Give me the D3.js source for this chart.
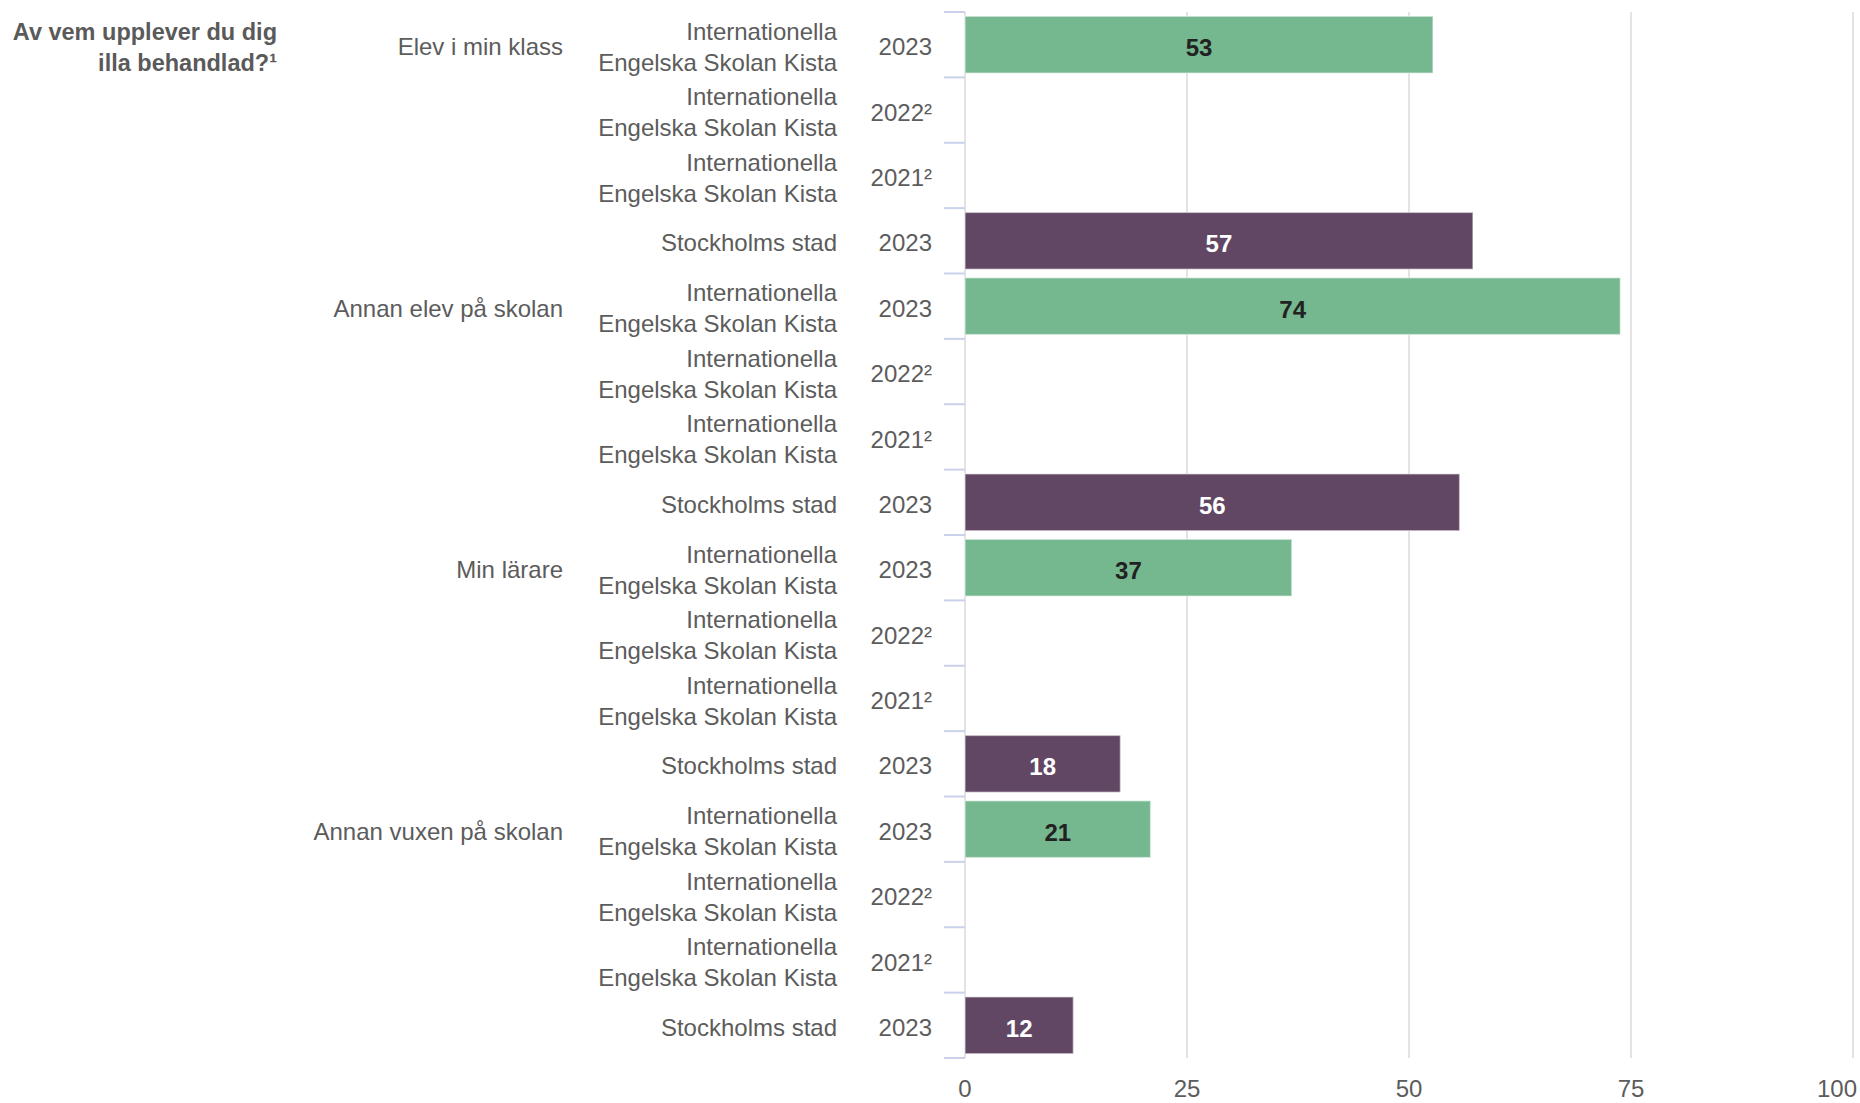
<!DOCTYPE html>
<html>
<head>
<meta charset="utf-8">
<style>
  body { margin: 0; background: #fff; }
  text { font-family: "Liberation Sans", Arial, sans-serif; }
</style>
<title>Av vem upplever du dig illa behandlad?</title>
</head>
<body>
<script src="https://cdn.jsdelivr.net/npm/d3@7"></script>
<script>
  // data
  var questions = ["Elev i min klass", "Annan elev på skolan", "Min lärare", "Annan vuxen på skolan"];
  var units = ["Internationella Engelska Skolan Kista", "Internationella Engelska Skolan Kista",
               "Internationella Engelska Skolan Kista", "Stockholms stad"];
  var years = ["2023", "2022²", "2021²", "2023"];
  var school2023 = [52.7, 73.8, 36.8, 20.9];
  var stad2023 = [57.2, 55.7, 17.5, 12.2];
  var xTicks = [0, 25, 50, 75, 100];

  // one row per question x unit/year
  var rows = [];
  questions.forEach(function(q, qi) {
    years.forEach(function(yr, j) {
      var v = null;
      if (j === 0) v = school2023[qi];
      if (j === 3) v = stad2023[qi];
      rows.push({ id: qi + "-" + j, q: q, first: j === 0, unit: units[j], year: yr,
                  value: v, stad: j === 3 });
    });
  });

  var W = 1860, H = 1103;
  var x0 = 965, x1 = 1853;
  var yTop = 12, yBottom = 1058;
  var x = d3.scaleLinear().domain([0, 100]).range([x0, x1]);
  var y = d3.scaleBand().domain(rows.map(function(d) { return d.id; }))
    .range([yTop, yBottom]).paddingInner(0.13).paddingOuter(0.065);
  var step = y.step();

  var svg = d3.select("body").append("svg")
    .attr("width", W).attr("height", H);

  var textCol = "#5c5c5c";
  var fs = 24;

  // gridlines
  svg.append("g").attr("id", "grid")
    .selectAll("line").data(xTicks.slice(1)).enter().append("line")
    .attr("x1", function(d) { return x(d); }).attr("x2", function(d) { return x(d); })
    .attr("y1", yTop).attr("y2", yBottom)
    .attr("stroke", "#e3e3e3").attr("stroke-width", 2);

  // y axis line
  svg.append("line")
    .attr("x1", x0).attr("x2", x0).attr("y1", yTop).attr("y2", yBottom)
    .attr("stroke", "#e3e3e3").attr("stroke-width", 2);

  // band boundary ticks
  var bounds = d3.range(rows.length + 1).map(function(i) { return yTop + i * step; });
  svg.append("g").attr("id", "ticks")
    .selectAll("line").data(bounds).enter().append("line")
    .attr("x1", x0 - 21).attr("x2", x0)
    .attr("y1", function(d) { return d; }).attr("y2", function(d) { return d; })
    .attr("stroke", "#c9d2ea").attr("stroke-width", 2);

  // bars
  var withVal = rows.filter(function(d) { return d.value !== null; });
  svg.append("g").attr("id", "bars")
    .selectAll("rect").data(withVal).enter().append("rect")
    .attr("x", x(0)).attr("y", function(d) { return y(d.id); })
    .attr("width", function(d) { return x(d.value) - x(0); })
    .attr("height", y.bandwidth())
    .attr("fill", function(d) { return d.stad ? "#614763" : "#75b88f"; })
    .attr("stroke", "#fff").attr("stroke-opacity", 0.45).attr("stroke-width", 1.5);

  // value labels
  svg.append("g").attr("id", "values")
    .selectAll("text").data(withVal).enter().append("text")
    .attr("x", function(d) { return (x(0) + x(d.value)) / 2; })
    .attr("y", function(d) { return y(d.id) + y.bandwidth() / 2 + 3; })
    .attr("dy", "0.36em")
    .attr("text-anchor", "middle")
    .attr("font-size", fs).attr("font-weight", "bold")
    .attr("fill", function(d) { return d.stad ? "#ffffff" : "#222222"; })
    .text(function(d) { return Math.round(d.value); });

  function rowMid(d) { return yTop + rows.indexOf(d) * step + step / 2 + 2; }

  // year labels
  svg.append("g").attr("id", "years")
    .selectAll("text").data(rows).enter().append("text")
    .attr("x", 932).attr("y", rowMid).attr("dy", "0.36em")
    .attr("text-anchor", "end").attr("font-size", fs).attr("fill", textCol)
    .text(function(d) { return d.year; });

  // unit labels (wrapped in two lines)
  var unitG = svg.append("g").attr("id", "units")
    .selectAll("text").data(rows).enter().append("text")
    .attr("text-anchor", "end").attr("font-size", fs).attr("fill", textCol);
  unitG.each(function(d) {
    var t = d3.select(this);
    var lines = d.stad ? [d.unit] : ["Internationella", "Engelska Skolan Kista"];
    var cy = rowMid(d);
    lines.forEach(function(l, i) {
      t.append("tspan").attr("x", 837)
        .attr("y", cy + (i - (lines.length - 1) / 2) * 31)
        .attr("dy", "0.36em").text(l);
    });
  });

  // question labels
  svg.append("g").attr("id", "questions")
    .selectAll("text").data(rows.filter(function(d) { return d.first; })).enter().append("text")
    .attr("x", 563).attr("y", rowMid).attr("dy", "0.36em")
    .attr("text-anchor", "end").attr("font-size", fs).attr("fill", textCol)
    .text(function(d) { return d.q; });

  // x axis tick labels, last one kept inside the edge
  svg.append("g").attr("id", "xlabels")
    .selectAll("text").data(xTicks).enter().append("text")
    .attr("x", function(d, i) { return i === xTicks.length - 1 ? W - 3 : x(d); })
    .attr("y", 1088).attr("dy", "0.36em")
    .attr("text-anchor", function(d, i) { return i === xTicks.length - 1 ? "end" : "middle"; })
    .attr("font-size", fs).attr("fill", textCol)
    .text(function(d) { return d; });

  // title
  var title = svg.append("text").attr("id", "title")
    .attr("text-anchor", "end").attr("font-size", 23.5).attr("font-weight", "bold")
    .attr("fill", "#5a5a5a");
  ["Av vem upplever du dig", "illa behandlad?¹"].forEach(function(l, i) {
    title.append("tspan").attr("x", 277).attr("y", 32 + i * 31).attr("dy", "0.36em").text(l);
  });
</script>
</body>
</html>
